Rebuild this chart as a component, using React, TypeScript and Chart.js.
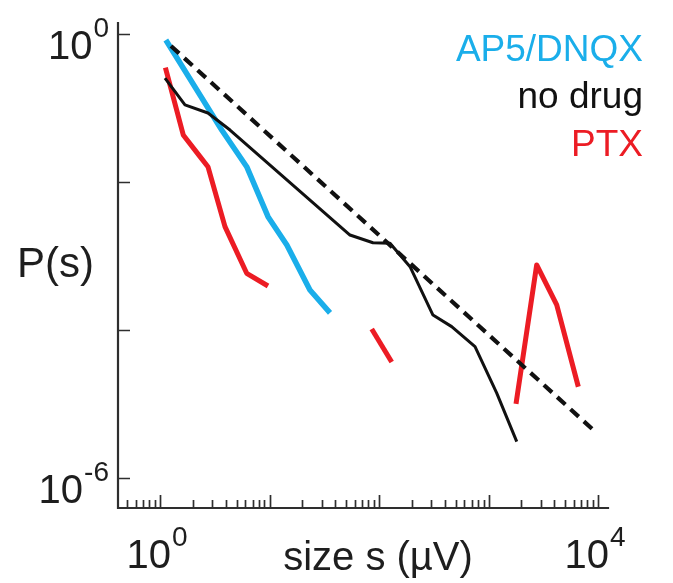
import React, { useEffect, useRef } from "react";
import { Chart, registerables } from "chart.js";

Chart.register(...registerables);

// ---- data ----
const apX = [1.13, 3.66, 6.19, 9.69, 14.4, 23.4, 35.7];
const apY = [0.83, 0.0504, 0.0161, 0.0034, 0.00141, 0.000347, 0.00017];

const noDrugX = [1.11, 1.69, 2.74, 4.36, 54.3, 88.1, 126, 192, 311, 461, 753, 1189, 1811];
const noDrugY = [0.254, 0.11, 0.0856, 0.0504, 0.00192, 0.00151, 0.00149, 0.000717, 0.000159, 0.000111, 0.0000595, 0.000014, 0.0000031];

const ptxX1 = [1.12, 1.63, 2.32, 2.74, 3.92, 6.19, 9.69];
const ptxY1 = [0.351, 0.0432, 0.022, 0.0161, 0.00249, 0.000584, 0.000393];
const ptxX2 = [85.8, 130.6];
const ptxY2 = [0.000103, 0.000037];
const ptxX3 = [1783, 2754, 4197, 6607];
const ptxY3 = [0.00001, 0.000756, 0.000218, 0.0000171];

const fitX = [1.26, 9390];
const fitY = [0.689, 0.00000425];

const legendLabels = ["AP5/DNQX", "no drug", "PTX"];
const yTickValues = [1, 1e-2, 1e-4, 1e-6];
const yTickLabels = [
  { value: 1, exp: "0" },
  { value: 1e-6, exp: "-6" },
];
const xDecades = [0.1, 1, 10, 100, 1000, 10000];
const xMultipliers = [1, 2, 3, 4, 5, 6, 7, 8, 9];
const xTickLabels = [
  { value: 1, exp: "0" },
  { value: 10000, exp: "4" },
];
const xTitle = "size s (\u00b5V)";
const yTitle = "P(s)";

// ---- styling ----
const W = 673;
const H = 583;
const FONT = '"Liberation Sans", Arial, Helvetica, sans-serif';
const BLUE = "#1aaeea";
const RED = "#ec1c24";
const BLACK = "#111111";

const pts = (xs: number[], ys: number[]) => xs.map((x, i) => ({ x, y: ys[i] }));

function drawPow(
  ctx: CanvasRenderingContext2D,
  exp: string,
  x: number,
  baseline: number,
  align: "right" | "center"
) {
  ctx.font = `40px ${FONT}`;
  const w1 = ctx.measureText("10").width;
  ctx.font = `28px ${FONT}`;
  const w2 = ctx.measureText(exp).width;
  const total = w1 + w2 + 1;
  const left = align === "right" ? x - total : x - total / 2;
  ctx.textAlign = "left";
  ctx.textBaseline = "alphabetic";
  ctx.font = `40px ${FONT}`;
  ctx.fillText("10", left, baseline);
  ctx.font = `28px ${FONT}`;
  ctx.fillText(exp, left + w1 + 1, baseline - 22);
}

const axesPlugin = {
  id: "customAxes",
  beforeDatasetsDraw(chart: any) {
    const { ctx, chartArea: a, scales } = chart;
    const xs = scales.x;
    const ys = scales.y;
    ctx.save();
    ctx.strokeStyle = "#2e2e2e";
    ctx.lineWidth = 2.2;
    ctx.lineCap = "square";
    ctx.beginPath();
    ctx.moveTo(a.left, a.top);
    ctx.lineTo(a.left, a.bottom);
    ctx.lineTo(a.right, a.bottom);
    ctx.stroke();

    ctx.lineWidth = 1.7;
    ctx.lineCap = "butt";
    ctx.beginPath();
    for (const v of yTickValues) {
      const py = Math.round(ys.getPixelForValue(v)) + 0.5;
      ctx.moveTo(a.left, py);
      ctx.lineTo(a.left + 12, py);
    }
    for (const d of xDecades) {
      for (const m of xMultipliers) {
        const v = d * m;
        if (v <= xs.min || v > xs.max) continue;
        const px = Math.round(xs.getPixelForValue(v)) + 0.5;
        const len = m === 1 ? 13 : 8;
        ctx.moveTo(px, a.bottom);
        ctx.lineTo(px, a.bottom - len);
      }
    }
    ctx.stroke();
    ctx.restore();
  },
  afterDraw(chart: any) {
    const { ctx, chartArea: a, scales } = chart;
    const xs = scales.x;
    const ys = scales.y;
    ctx.save();
    ctx.fillStyle = "#1e1e1e";
    for (const t of yTickLabels) {
      const py = ys.getPixelForValue(t.value);
      drawPow(ctx, t.exp, a.left - 9, py + 25, "right");
    }
    for (const t of xTickLabels) {
      const px = xs.getPixelForValue(t.value);
      drawPow(ctx, t.exp, px - 3, a.bottom + 60, "center");
    }
    ctx.font = `40px ${FONT}`;
    ctx.textAlign = "center";
    ctx.textBaseline = "alphabetic";
    ctx.fillText(xTitle, 378, a.bottom + 62);
    ctx.font = `42px ${FONT}`;
    ctx.textAlign = "left";
    ctx.fillText(yTitle, 17, 277);

    // legend
    const colors = [BLUE, BLACK, RED];
    const baselines = [61, 108, 156];
    ctx.font = `37px ${FONT}`;
    ctx.textAlign = "right";
    legendLabels.forEach((lab, i) => {
      ctx.fillStyle = colors[i];
      ctx.fillText(lab, 643, baselines[i]);
    });
    ctx.restore();
  },
};

export default function App() {
  const ref = useRef<HTMLCanvasElement | null>(null);
  useEffect(() => {
    if (!ref.current) return;
    const common = {
      pointRadius: 0,
      tension: 0,
      fill: false,
      borderCapStyle: "butt" as const,
      borderJoinStyle: "round" as const,
    };
    const chart = new Chart(ref.current, {
      type: "line",
      data: {
        datasets: [
          { ...common, label: "fit", data: pts(fitX, fitY), borderColor: BLACK, borderWidth: 4.2, borderDash: [11, 7] },
          { ...common, label: legendLabels[1], data: pts(noDrugX, noDrugY), borderColor: BLACK, borderWidth: 3 },
          { ...common, label: legendLabels[0], data: pts(apX, apY), borderColor: BLUE, borderWidth: 5.5 },
          { ...common, label: legendLabels[2], data: pts(ptxX1, ptxY1), borderColor: RED, borderWidth: 5 },
          { ...common, label: "PTX b", data: pts(ptxX2, ptxY2), borderColor: RED, borderWidth: 5 },
          { ...common, label: "PTX c", data: pts(ptxX3, ptxY3), borderColor: RED, borderWidth: 5 },
        ],
      },
      options: {
        responsive: false,
        animation: false,
        devicePixelRatio: 1,
        layout: { padding: { left: 118, right: W - 608, top: 23, bottom: H - 508 } },
        plugins: { legend: { display: false }, tooltip: { enabled: false }, title: { display: false } },
        scales: {
          x: { type: "logarithmic", display: false, min: 0.4134, max: 12337, bounds: "data" },
          y: { type: "logarithmic", display: false, min: 3.93e-7, max: 1.408, bounds: "data" },
        },
      },
      plugins: [axesPlugin],
    } as any);
    return () => chart.destroy();
  }, []);
  return (
    <div style={{ position: "fixed", left: 0, top: 0, width: W, height: H, background: "#fff" }}>
      <canvas ref={ref} width={W} height={H} style={{ display: "block", width: W, height: H }} />
    </div>
  );
}
